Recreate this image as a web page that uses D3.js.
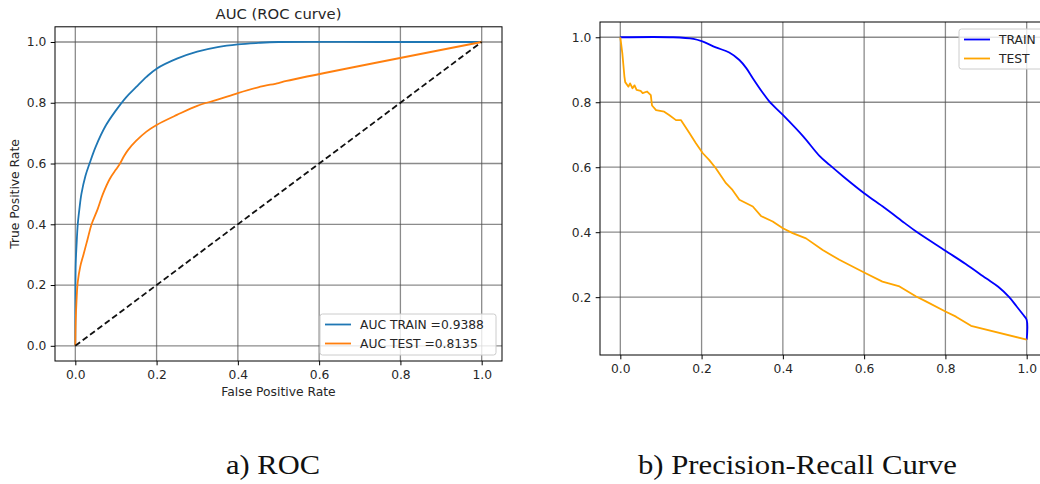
<!DOCTYPE html>
<html>
<meta charset="utf-8">
<style>
  body { margin: 0; background: #fff; }
  svg text { font-family: "DejaVu Sans", sans-serif; font-size: 12.3px; fill: #262626; }
  .grid line { stroke: #4d4d4d; stroke-opacity: 0.65; stroke-width: 1.3; }
  .frame { fill: none; stroke: #000; stroke-width: 1; }
</style>
<svg width="1040" height="484"></svg>
<script src="https://d3js.org/d3.v7.min.js"></script>
<script>
  // tick values
  var rocTicks = [0, 0.2, 0.4, 0.6, 0.8, 1.0];
  var prXTicks = [0, 0.2, 0.4, 0.6, 0.8, 1.0];
  var prYTicks = [0.2, 0.4, 0.6, 0.8, 1.0];

  // ROC, train
  var rocTrainFpr = [0, 0, 0.001, 0.003, 0.006, 0.01, 0.015, 0.025, 0.035, 0.05, 0.075, 0.1, 0.125, 0.15, 0.175, 0.2, 0.25, 0.3, 0.35, 0.4, 0.45, 0.5, 0.75, 1];
  var rocTrainTpr = [0, 0.1, 0.27, 0.33, 0.4, 0.45, 0.5, 0.56, 0.6, 0.655, 0.725, 0.775, 0.818, 0.852, 0.885, 0.912, 0.945, 0.968, 0.983, 0.992, 0.997, 1, 1, 1];

  // ROC, test
  var rocTestFpr = [0, 0.001, 0.003, 0.006, 0.012, 0.02, 0.03, 0.04, 0.055, 0.068, 0.085, 0.1, 0.11, 0.12, 0.13, 0.15, 0.175, 0.2, 0.25, 0.3, 0.35, 0.4, 0.45, 0.5, 0.52, 1];
  var rocTestTpr = [0, 0.08, 0.15, 0.21, 0.26, 0.3, 0.35, 0.4, 0.45, 0.5, 0.55, 0.58, 0.6, 0.625, 0.645, 0.675, 0.705, 0.727, 0.76, 0.79, 0.81, 0.832, 0.851, 0.865, 0.872, 1];

  // Precision-Recall, train
  var prTrainRec = [0, 0.13, 0.18, 0.2, 0.235, 0.268, 0.293, 0.31, 0.326, 0.35, 0.367, 0.4, 0.45, 0.49, 0.515, 0.55, 0.6, 0.65, 0.7, 0.728, 0.8, 0.85, 0.9, 0.93, 0.957, 0.975, 0.99, 1, 1];
  var prTrainPrec = [1, 1, 0.995, 0.988, 0.969, 0.953, 0.93, 0.905, 0.874, 0.83, 0.802, 0.761, 0.695, 0.635, 0.607, 0.57, 0.52, 0.475, 0.428, 0.402, 0.343, 0.302, 0.258, 0.232, 0.2, 0.172, 0.148, 0.13, 0.069];

  // Precision-Recall, test
  var prTestRec = [0, 0.005, 0.01, 0.012, 0.02, 0.024, 0.03, 0.035, 0.04, 0.05, 0.055, 0.066, 0.075, 0.078, 0.088, 0.108, 0.12, 0.137, 0.149, 0.17, 0.186, 0.203, 0.219, 0.235, 0.26, 0.276, 0.293, 0.326, 0.346, 0.375, 0.4, 0.424, 0.457, 0.498, 0.539, 0.6, 0.645, 0.687, 0.728, 0.752, 0.8, 0.826, 0.863, 1];
  var prTestPrec = [1, 0.95, 0.88, 0.862, 0.848, 0.858, 0.843, 0.852, 0.838, 0.835, 0.828, 0.833, 0.822, 0.79, 0.776, 0.771, 0.761, 0.745, 0.745, 0.705, 0.674, 0.643, 0.622, 0.597, 0.551, 0.53, 0.5, 0.479, 0.45, 0.433, 0.412, 0.397, 0.381, 0.345, 0.315, 0.276, 0.248, 0.233, 0.202, 0.187, 0.156, 0.14, 0.112, 0.069];

  var rocLegend = ["AUC TRAIN =0.9388", "AUC TEST =0.8135"];
  var prLegend = ["TRAIN", "TEST"];
  var captions = ["a) ROC", "b) Precision-Recall Curve"];

  var svg = d3.select("svg");
  svg.append("rect").attr("width", 1040).attr("height", 484).attr("fill", "#fff");

  function zip(xs, ys) { return xs.map(function (v, i) { return [v, ys[i]]; }); }

  // one matplotlib style panel
  function panel(o) {
    var x = d3.scaleLinear().domain(o.xDomain).range([o.left, o.right]);
    var y = d3.scaleLinear().domain(o.yDomain).range([o.bottom, o.top]);
    var g = svg.append("g");
    var clipId = "clip" + o.id;

    g.append("clipPath").attr("id", clipId).append("rect")
      .attr("x", o.left).attr("y", o.top)
      .attr("width", o.right - o.left).attr("height", o.bottom - o.top);

    // grid
    var grid = g.append("g").attr("class", "grid");
    grid.selectAll(".gx").data(o.xTicks).enter().append("line")
      .attr("x1", x).attr("x2", x).attr("y1", o.top).attr("y2", o.bottom);
    grid.selectAll(".gy").data(o.yTicks).enter().append("line")
      .attr("y1", y).attr("y2", y).attr("x1", o.left).attr("x2", o.right);

    // axes
    var fmt = d3.format(".1f");
    var ax = g.append("g").attr("transform", "translate(0," + o.bottom + ")")
      .call(d3.axisBottom(x).tickValues(o.xTicks).tickFormat(fmt).tickSize(4.3).tickPadding(4.5));
    var ay = g.append("g").attr("transform", "translate(" + o.left + ",0)")
      .call(d3.axisLeft(y).tickValues(o.yTicks).tickFormat(fmt).tickSize(4.3).tickPadding(4.3));
    [ax, ay].forEach(function (a) {
      a.select(".domain").remove();
      a.selectAll("text").style("fill", "#262626");
      a.selectAll("line").attr("stroke", "#000");
      a.attr("font-size", null).attr("font-family", null);
    });

    // curves
    var curves = g.append("g").attr("clip-path", "url(#" + clipId + ")");
    o.series.forEach(function (s) {
      var line = d3.line()
        .x(function (d) { return x(d[0]); })
        .y(function (d) { return y(d[1]); })
        .curve(s.smooth ? d3.curveCatmullRom.alpha(0.5) : d3.curveLinear);
      curves.append("path").datum(s.data)
        .attr("d", line)
        .attr("fill", "none")
        .attr("stroke", s.color)
        .attr("stroke-width", 1.8)
        .attr("stroke-linejoin", "round")
        .attr("stroke-dasharray", s.dash || null);
    });

    g.append("rect").attr("class", "frame")
      .attr("x", o.left).attr("y", o.top)
      .attr("width", o.right - o.left).attr("height", o.bottom - o.top);

    // legend
    var L = o.legend;
    var lg = g.append("g");
    lg.append("rect")
      .attr("x", L.x).attr("y", L.y).attr("width", L.w).attr("height", L.h)
      .attr("rx", 2.5).attr("fill", "#fff").attr("fill-opacity", 0.8)
      .attr("stroke", "#cccccc").attr("stroke-width", 1);
    L.labels.forEach(function (t, i) {
      var cy = L.y + 10.5 + i * 19;
      lg.append("line").attr("x1", L.x + 5).attr("x2", L.x + 31)
        .attr("y1", cy).attr("y2", cy)
        .attr("stroke", o.series[i].color).attr("stroke-width", 1.8);
      lg.append("text").attr("x", L.x + 40).attr("y", cy + 4.4).text(t);
    });
    return { x: x, y: y, g: g };
  }

  var roc = panel({
    id: "roc", left: 55, right: 502, top: 26.8, bottom: 361,
    xDomain: [-0.05, 1.05], yDomain: [-0.05, 1.05],
    xTicks: rocTicks, yTicks: rocTicks,
    series: [
      { data: zip(rocTrainFpr, rocTrainTpr), color: "#1f77b4", smooth: true },
      { data: zip(rocTestFpr, rocTestTpr), color: "#ff7f0e", smooth: true },
      { data: zip([0, 1], [0, 1]), color: "#111", dash: "6,3.2" }
    ],
    legend: { x: 320, y: 314, w: 176, h: 41, labels: rocLegend }
  });

  roc.g.append("text").attr("x", 278.5).attr("y", 19.4)
    .attr("text-anchor", "middle").style("font-size", "14.8px").text("AUC (ROC curve)");
  roc.g.append("text").attr("x", 278.5).attr("y", 396)
    .attr("text-anchor", "middle").text("False Positive Rate");
  roc.g.append("text").attr("transform", "translate(19,194) rotate(-90)")
    .attr("text-anchor", "middle").text("True Positive Rate");

  panel({
    id: "pr", left: 600, right: 1047, top: 22, bottom: 355,
    xDomain: [-0.05, 1.05], yDomain: [0.022, 1.047],
    xTicks: prXTicks, yTicks: prYTicks,
    series: [
      { data: zip(prTrainRec, prTrainPrec), color: "#0000ff", smooth: true },
      { data: zip(prTestRec, prTestPrec), color: "#ffa500" }
    ],
    legend: { x: 959, y: 29, w: 84, h: 40, labels: prLegend }
  });

  // captions under the panels
  var capX = [273, 797.5], capW = [94, 319];
  captions.forEach(function (c, i) {
    svg.append("text")
      .attr("x", capX[i] - capW[i] / 2).attr("y", 474)
      .attr("textLength", capW[i]).attr("lengthAdjust", "spacingAndGlyphs")
      .style("font-family", "'Liberation Serif', serif").style("font-size", "27px").style("fill", "#111")
      .text(c);
  });
</script>
</html>
